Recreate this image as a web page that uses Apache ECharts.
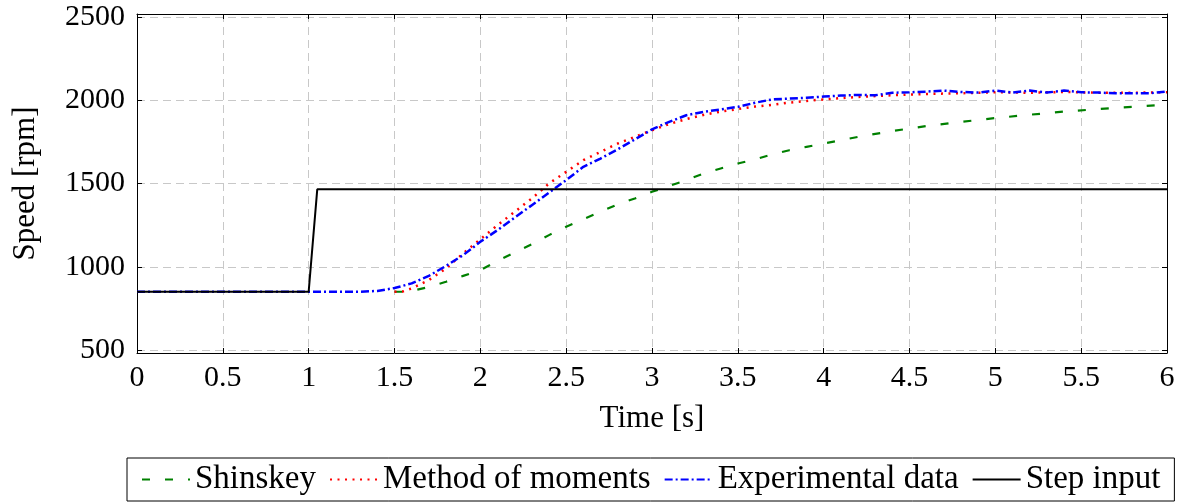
<!DOCTYPE html>
<html>
<head>
<meta charset="utf-8">
<script src="https://cdn.jsdelivr.net/npm/echarts@6/dist/echarts.min.js"></script>
<style>html,body{margin:0;padding:0;background:#fff}#c{width:1189px;height:503px}</style>
</head>
<body>
<div id="c"></div>
<script>
const xTicks = [0, 0.5, 1, 1.5, 2, 2.5, 3, 3.5, 4, 4.5, 5, 5.5, 6];
const yTicks = [500, 1000, 1500, 2000, 2500];

const shinskeyT = [1.5, 1.55, 1.6, 1.7, 1.8, 1.9, 2.0, 2.1, 2.2, 2.3, 2.4, 2.5, 2.6, 2.7, 2.8, 2.9, 3.0, 3.1, 3.2, 3.3, 3.4, 3.5, 3.6, 3.7, 3.8, 3.9, 4.0, 4.2, 4.4, 4.6, 4.8, 5.0, 5.2, 5.4, 5.6, 5.8, 6.0];
const shinskeyV = [850, 850, 855, 878, 910, 945, 980, 1035, 1085, 1135, 1190, 1240, 1285, 1330, 1375, 1410, 1450, 1485, 1520, 1560, 1590, 1620, 1645, 1675, 1700, 1720, 1740, 1780, 1815, 1845, 1870, 1893, 1913, 1932, 1947, 1960, 1974];

const momentsT = [1.5, 1.55, 1.6, 1.7, 1.8, 1.9, 2.0, 2.1, 2.2, 2.3, 2.4, 2.5, 2.6, 2.7, 2.8, 2.9, 3.0, 3.1, 3.2, 3.3, 3.4, 3.5, 3.6, 3.7, 3.8, 3.9, 4.0, 4.2, 4.4, 4.6, 4.8, 5.0, 5.2, 5.4, 5.6, 5.8, 6.0];
const momentsV = [850, 852, 870, 920, 990, 1080, 1165, 1250, 1330, 1410, 1500, 1570, 1640, 1690, 1740, 1780, 1820, 1857, 1887, 1912, 1932, 1947, 1962, 1972, 1986, 1996, 2005, 2020, 2030, 2038, 2042, 2048, 2045, 2050, 2045, 2045, 2048];

const experimentT = [0, 1.3, 1.4, 1.5, 1.6, 1.7, 1.8, 1.9, 2.0, 2.1, 2.2, 2.3, 2.4, 2.5, 2.6, 2.7, 2.8, 2.9, 3.0, 3.1, 3.2, 3.3, 3.4, 3.5, 3.6, 3.7, 3.8, 3.9, 4.0, 4.1, 4.2, 4.3, 4.4, 4.5, 4.6, 4.7, 4.8, 4.9, 5.0, 5.1, 5.2, 5.3, 5.4, 5.5, 5.6, 5.7, 5.8, 5.9, 6.0];
const experimentV = [850, 850, 855, 872, 900, 945, 1005, 1070, 1150, 1220, 1295, 1370, 1445, 1520, 1600, 1650, 1705, 1765, 1825, 1870, 1910, 1930, 1945, 1960, 1985, 2005, 2010, 2015, 2022, 2028, 2032, 2030, 2045, 2048, 2052, 2058, 2050, 2046, 2058, 2046, 2058, 2046, 2058, 2048, 2046, 2042, 2042, 2042, 2052];

const stepT = [0, 1.0, 1.05, 6.0];
const stepV = [850, 850, 1465, 1465];

const names = ['Shinskey', 'Method of moments', 'Experimental data', 'Step input'];

const pairs = (t, v) => t.map((x, i) => [x, v[i]]);
const FONT = '"Liberation Serif", "DejaVu Serif", serif';

const chart = echarts.init(document.getElementById('c'));
const axisLineStyle = { color: '#000', width: 1 };
const gridLine = { show: true, lineStyle: { color: '#c8c8c8', width: 1, type: [8, 5] } };

chart.setOption({
  animation: false,
  backgroundColor: '#fff',
  grid: { left: 137, right: 22, top: 14, bottom: 150 },
  xAxis: [{
    type: 'value', min: 0, max: 6, interval: 0.5,
    axisLine: { show: true, onZero: false, lineStyle: axisLineStyle },
    axisTick: { show: true, inside: true, length: 5, lineStyle: axisLineStyle },
    axisLabel: { color: '#000', fontSize: 30, fontFamily: FONT, margin: 10,
      formatter: v => String(v) },
    splitLine: gridLine,
    name: 'Time [s]', nameLocation: 'middle', nameGap: 50,
    nameTextStyle: { color: '#000', fontSize: 31, fontFamily: FONT }
  }, {
    type: 'value', min: 0, max: 6, interval: 0.5, position: 'top',
    axisLine: { show: true, onZero: false, lineStyle: axisLineStyle },
    axisTick: { show: true, inside: true, length: 5, lineStyle: axisLineStyle },
    axisLabel: { show: false }, splitLine: { show: false }
  }],
  yAxis: [{
    type: 'value', min: 482, max: 2518,
    axisLine: { show: true, onZero: false, lineStyle: axisLineStyle },
    axisTick: { show: true, inside: true, length: 5, customValues: yTicks, lineStyle: axisLineStyle },
    axisLabel: { customValues: yTicks, color: '#000', fontSize: 30, fontFamily: FONT, margin: 12,
      formatter: v => String(v) },
    splitLine: gridLine,
    name: 'Speed [rpm]', nameLocation: 'middle', nameGap: 96,
    nameTextStyle: { color: '#000', fontSize: 31, fontFamily: FONT }
  }, {
    type: 'value', min: 482, max: 2518, position: 'right',
    axisLine: { show: true, onZero: false, lineStyle: axisLineStyle },
    axisTick: { show: true, inside: true, length: 5, customValues: yTicks, lineStyle: axisLineStyle },
    axisLabel: { show: false }, splitLine: { show: false }
  }],
  legend: {
    left: 127, bottom: 2,
    data: names,
    itemWidth: 48, itemHeight: 14, itemGap: 13,
    padding: [5, 14],
    borderColor: '#000', borderWidth: 1, borderRadius: 0,
    itemStyle: { color: 'rgba(0,0,0,0)', borderColor: 'rgba(0,0,0,0)', borderWidth: 0 },
    textStyle: { color: '#000', fontSize: 33, fontFamily: FONT }
  },
  series: [
    { name: names[0], type: 'line', data: pairs(shinskeyT, shinskeyV), symbol: 'none', smooth: false,
      lineStyle: { color: '#008000', width: 2.2, type: [8, 15] }, itemStyle: { color: '#008000' } },
    { name: names[1], type: 'line', data: pairs(momentsT, momentsV), symbol: 'none',
      lineStyle: { color: '#ff0000', width: 2.5, type: [2, 5.5] }, itemStyle: { color: '#ff0000' } },
    { name: names[2], type: 'line', data: pairs(experimentT, experimentV), symbol: 'none',
      lineStyle: { color: '#0000ff', width: 2.5, type: [8, 3, 2, 3] }, itemStyle: { color: '#0000ff' } },
    { name: names[3], type: 'line', data: pairs(stepT, stepV), symbol: 'none',
      lineStyle: { color: '#000', width: 2 }, itemStyle: { color: '#000' } }
  ]
});
</script>
</body>
</html>
